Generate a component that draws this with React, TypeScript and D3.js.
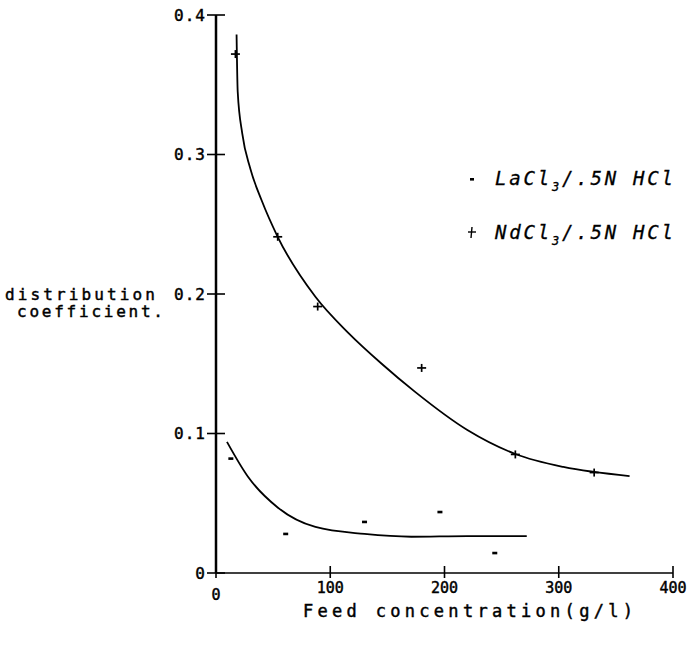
import React from "react";
import * as d3 from "d3";

const xTicks = [0, 100, 200, 300, 400];
const yTicks = [0, 0.1, 0.2, 0.3, 0.4];
const xTickLabels = ["0", "100", "200", "300", "400"];
const yTickLabels = ["0", "0.1", "0.2", "0.3", "0.4"];

// NdCl3 / .5N HCl  (plus markers)
const ndX = [17, 54, 89, 180, 262, 331];
const ndY = [0.372, 0.241, 0.191, 0.147, 0.085, 0.072];
// fitted curve
const ndCurveX = [18, 19, 23, 30, 40, 54, 87, 116, 145, 174, 220, 262, 304, 362];
const ndCurveY = [0.386, 0.345, 0.315, 0.29, 0.267, 0.241, 0.198, 0.172, 0.15, 0.13, 0.1025, 0.0853, 0.076, 0.0695];

// LaCl3 / .5N HCl (dot markers)
const laX = [13, 61, 130, 196, 244];
const laY = [0.082, 0.028, 0.0366, 0.0437, 0.0143];
const laCurveX = [9.6, 28, 54, 87, 130, 171, 220, 272];
const laCurveY = [0.094, 0.069, 0.047, 0.033, 0.028, 0.026, 0.0265, 0.0265];

const FONT = "'DejaVu Sans Mono', monospace";
const semi = { stroke: "#000", strokeWidth: 0.45 };

export default function App() {
  const x = d3.scaleLinear().domain([0, 400]).range([216, 673]);
  const y = d3.scaleLinear().domain([0, 0.4]).range([573, 15]);
  const line = d3
    .line<[number, number]>()
    .x((d) => x(d[0]))
    .y((d) => y(d[1]))
    .curve(d3.curveMonotoneX);

  const ndPath = line(ndCurveX.map((v, i) => [v, ndCurveY[i]]));
  const laPath = line(laCurveX.map((v, i) => [v, laCurveY[i]]));

  return (
    <svg
      width={694}
      height={646}
      style={{ position: "absolute", left: 0, top: 0, background: "#fff" }}
      fontFamily={FONT}
    >
      <rect width={694} height={646} fill="#fff" />
      {/* axes */}
      <line x1={x(0)} x2={x(0)} y1={y(0)} y2={y(0.4)} stroke="#000" strokeWidth={2.5} />
      <line x1={x(0)} x2={x(400)} y1={y(0)} y2={y(0)} stroke="#000" strokeWidth={1.6} />
      {yTicks.map((t, i) => (
        <g key={"y" + i}>
          <line x1={x(0) - 9} x2={x(0) + 9} y1={y(t)} y2={y(t)} stroke="#000" strokeWidth={1.6} />
          <text
            x={x(0) - 10}
            y={y(t)}
            dy="0.36em"
            textAnchor="end"
            fontSize={16}
            letterSpacing={1}
            fill="#000"
            {...semi}
          >
            {yTickLabels[i]}
          </text>
        </g>
      ))}
      {xTicks.map((t, i) => (
        <g key={"x" + i}>
          <line x1={x(t)} x2={x(t)} y1={y(0) - 7} y2={y(0) + 5} stroke="#000" strokeWidth={1.6} />
          <text
            x={x(t)}
            y={y(0) + (t === 0 ? 27 : 20)}
            textAnchor="middle"
            fontSize={15}
            fill="#000"
            {...semi}
          >
            {xTickLabels[i]}
          </text>
        </g>
      ))}
      {/* axis titles */}
      <text x={303} y={617} fontSize={17} textLength={330} lengthAdjust="spacing" fill="#000" {...semi}>
        Feed concentration(g/l)
      </text>
      <text x={5} y={300} fontSize={16} textLength={150} lengthAdjust="spacing" fill="#000" {...semi}>
        distribution
      </text>
      <text x={17} y={317} fontSize={16} textLength={146} lengthAdjust="spacing" fill="#000" {...semi}>
        coefficient.
      </text>

      {/* curves */}
      <path d={ndPath || ""} fill="none" stroke="#000" strokeWidth={1.8} />
      <path d={laPath || ""} fill="none" stroke="#000" strokeWidth={1.8} />

      {/* markers */}
      {ndX.map((v, i) => (
        <g key={"nd" + i} stroke="#000" strokeWidth={1.7}>
          <line x1={x(v) - 4.5} x2={x(v) + 4.5} y1={y(ndY[i])} y2={y(ndY[i])} />
          <line x1={x(v)} x2={x(v)} y1={y(ndY[i]) - 4} y2={y(ndY[i]) + 4} />
        </g>
      ))}
      {laX.map((v, i) => (
        <rect key={"la" + i} x={x(v) - 2.5} y={y(laY[i]) - 1.3} width={5} height={2.6} fill="#000" />
      ))}

      {/* legend */}
      <rect x={470} y={178} width={4} height={2.6} fill="#000" />
      <text x={495} y={185} fontSize={19} fontStyle="italic" fill="#000" textLength={178} lengthAdjust="spacing" stroke="#000" strokeWidth={0.3}>
        LaCl<tspan fontSize={12} dy={6}>3</tspan><tspan dy={-6}>/.5N HCl</tspan>
      </text>
      <g stroke="#000" strokeWidth={1.4}>
        <line x1={468} x2={476} y1={232} y2={232} />
        <line x1={472} x2={471} y1={227} y2={238} />
      </g>
      <text x={495} y={239} fontSize={19} fontStyle="italic" fill="#000" textLength={178} lengthAdjust="spacing" stroke="#000" strokeWidth={0.3}>
        NdCl<tspan fontSize={12} dy={6}>3</tspan><tspan dy={-6}>/.5N HCl</tspan>
      </text>
    </svg>
  );
}
